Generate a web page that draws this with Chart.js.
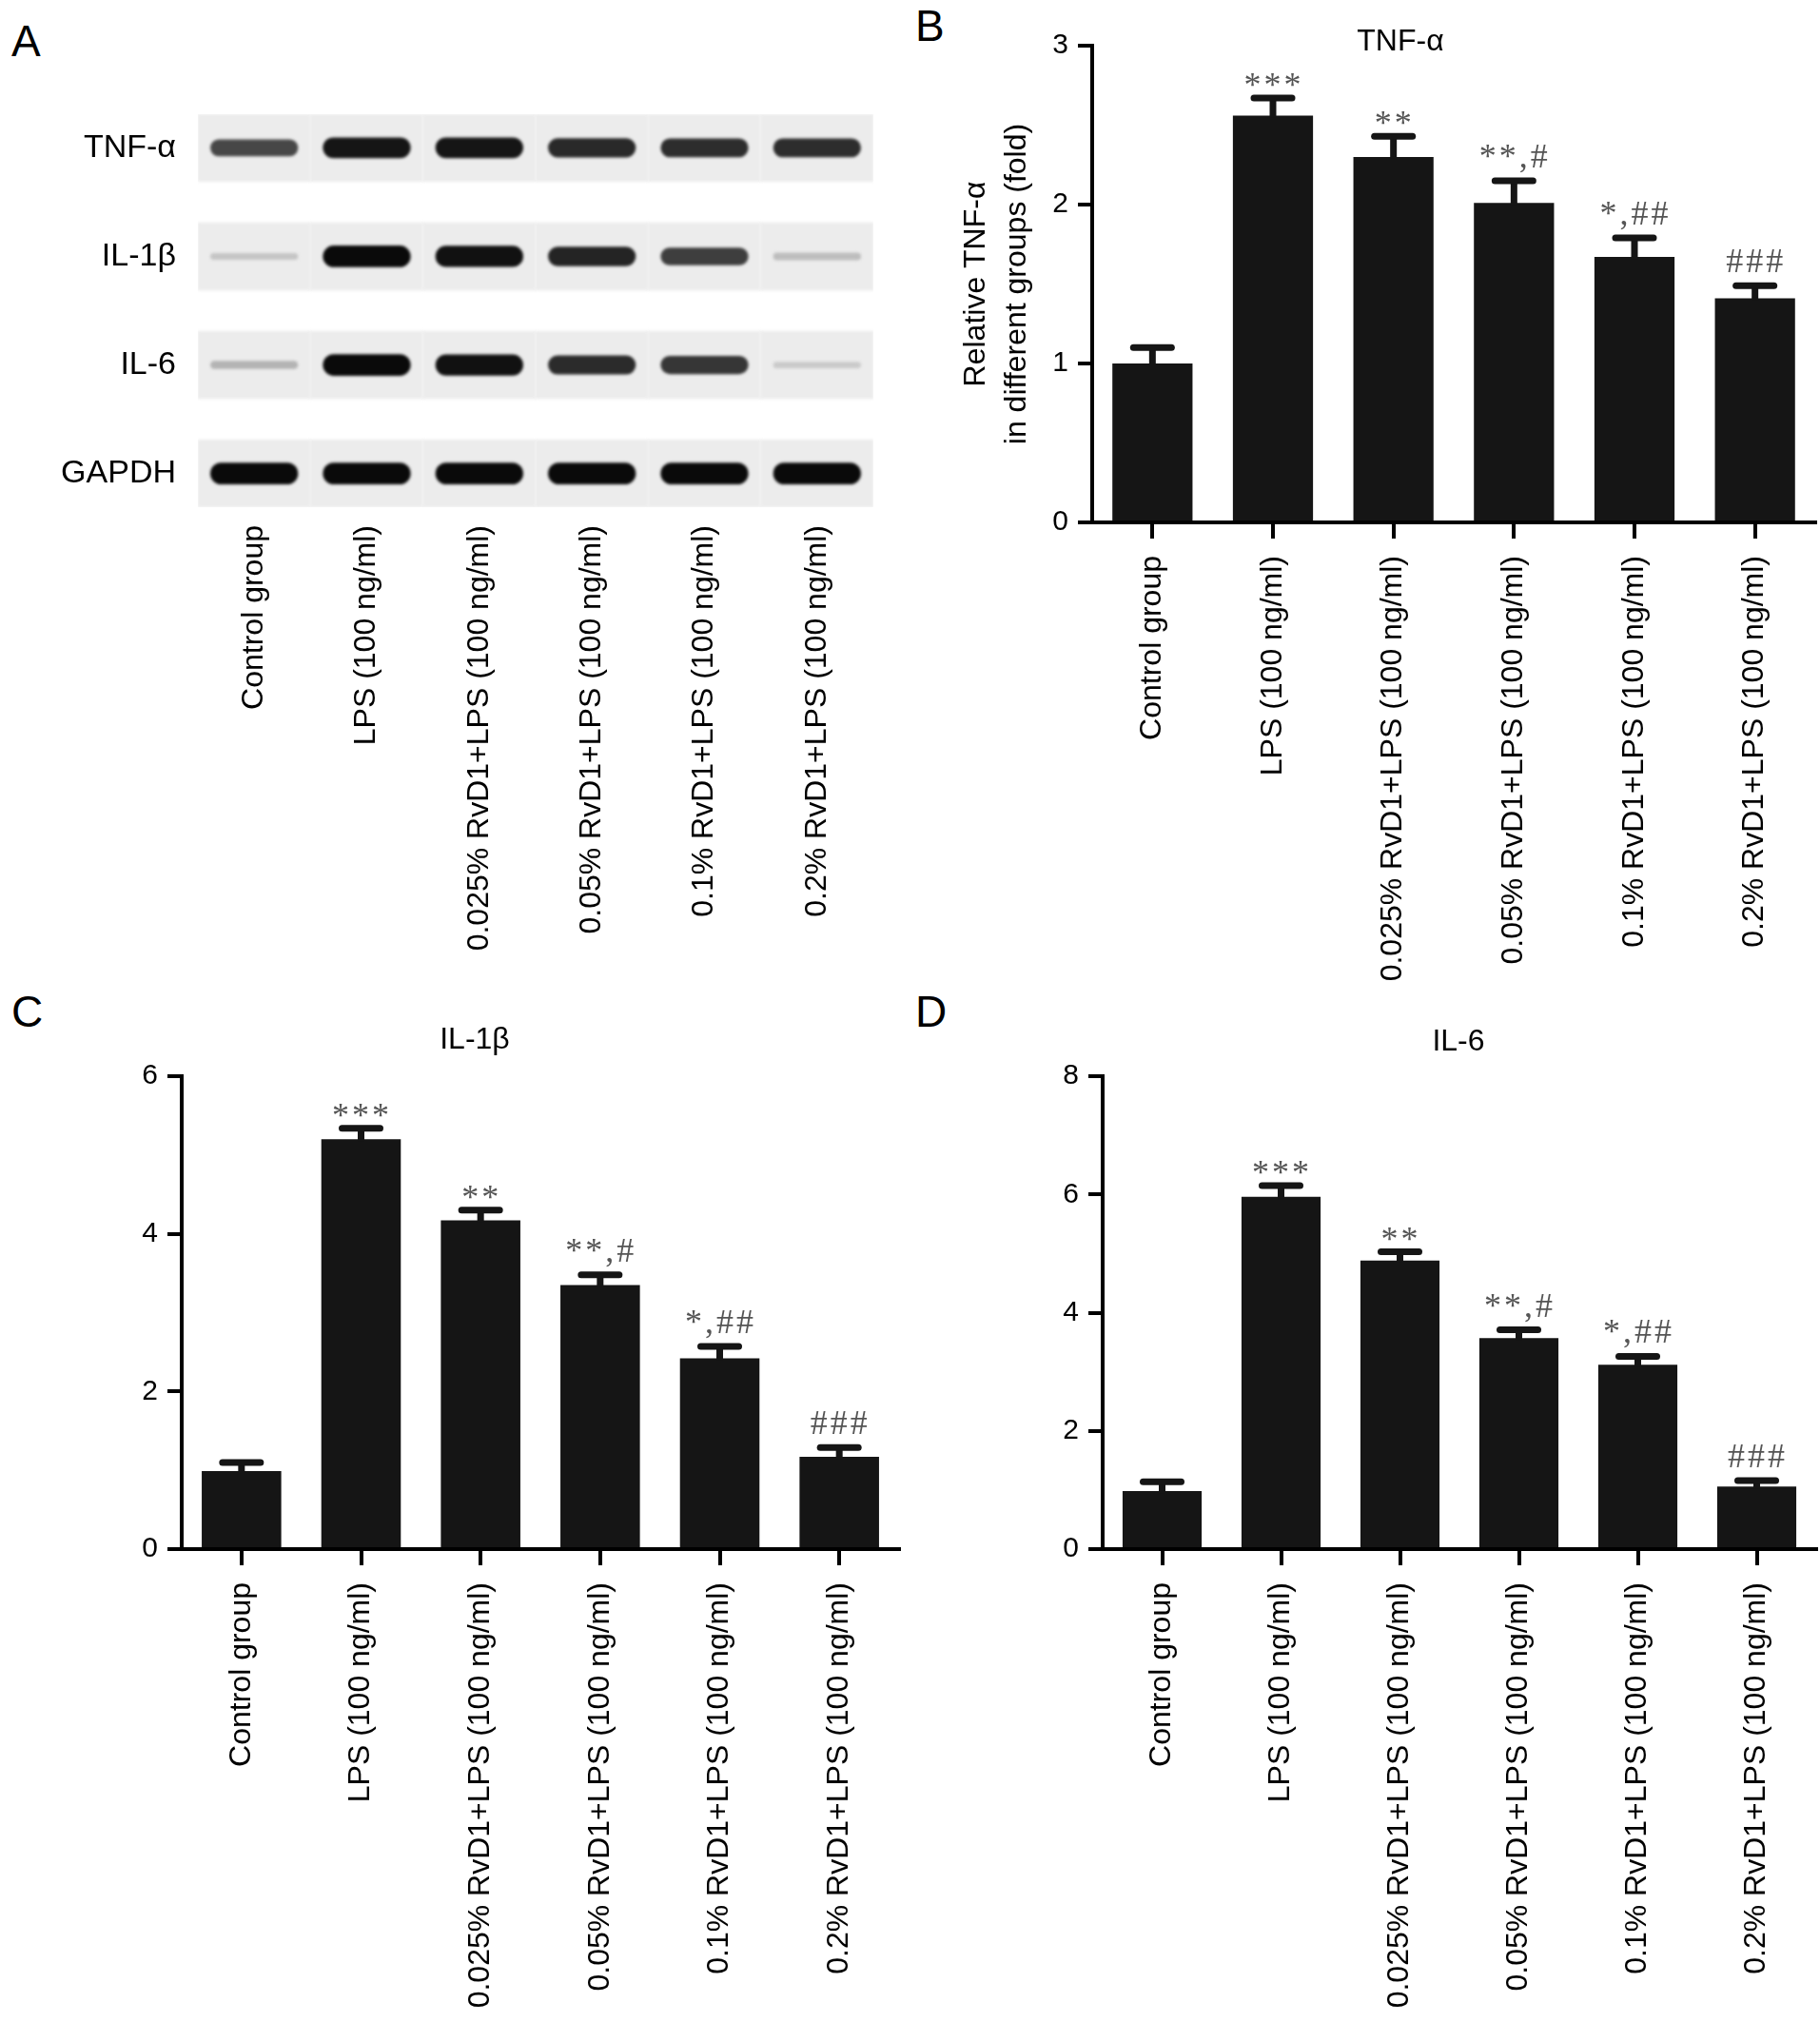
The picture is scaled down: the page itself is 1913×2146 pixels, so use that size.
<!DOCTYPE html>
<html>
<head>
<meta charset="utf-8">
<script src="https://cdn.jsdelivr.net/npm/chart.js@4.4.1/dist/chart.umd.min.js"></script>
<style>
  body { margin: 0; background: #fff; }
  #page { position: relative; width: 1913px; height: 2146px; background: #fff; }
  canvas { position: absolute; }
  .letter { position: absolute; font: 46px "Liberation Sans", Arial, sans-serif; color: #000; line-height: 1; }
</style>
</head>
<body>
<div id="page">
  <div class="letter" style="left:12px; top:20px;">A</div>
  <div class="letter" style="left:962px; top:4px;">B</div>
  <div class="letter" style="left:12px; top:1040px;">C</div>
  <div class="letter" style="left:962px; top:1040px;">D</div>
  <canvas id="blot" width="960" height="1040" style="left:0; top:0;"></canvas>
  <canvas id="graphTNF" width="953" height="1060" style="left:960px; top:0;"></canvas>
  <canvas id="graphIL1" width="960" height="1106" style="left:0; top:1040px;"></canvas>
  <canvas id="graphIL6" width="953" height="1106" style="left:960px; top:1040px;"></canvas>
</div>
<script>
Chart.defaults.font.family = '"Liberation Sans", Arial, Helvetica, sans-serif'
Chart.defaults.color = '#000'

// groups, same order in every panel
var groups = ['Control group', 'LPS (100 ng/ml)', '0.025% RvD1+LPS (100 ng/ml)', '0.05% RvD1+LPS (100 ng/ml)', '0.1% RvD1+LPS (100 ng/ml)', '0.2% RvD1+LPS (100 ng/ml)']
var marks = ['', '***', '**', '**,#', '*,##', '###']

// relative expression (fold) and SD
var tnfMean = [1.00, 2.56, 2.30, 2.01, 1.67, 1.41]
var tnfSd = [0.10, 0.11, 0.13, 0.14, 0.12, 0.08]
var il1bMean = [0.99, 5.20, 4.17, 3.35, 2.42, 1.17]
var il1bSd = [0.11, 0.14, 0.13, 0.13, 0.15, 0.12]
var il6Mean = [0.98, 5.96, 4.88, 3.57, 3.12, 1.06]
var il6Sd = [0.16, 0.19, 0.15, 0.14, 0.14, 0.10]

// western blot: band darkness per lane (0 = none, 1 = saturated)
var blotRows = ['TNF-α', 'IL-1β', 'IL-6', 'GAPDH']
var tnfBand = [0.72, 0.95, 0.95, 0.86, 0.84, 0.84]
var il1bBand = [0.14, 1.00, 0.97, 0.88, 0.76, 0.18]
var il6Band = [0.22, 1.00, 0.97, 0.85, 0.80, 0.12]
var gapdhBand = [1.00, 1.00, 1.00, 1.00, 1.00, 1.00]

const BAR = '#151515'

// error bars + significance marks, drawn from the y scale
const errorBars = (sd, labels) => ({
    id: 'errorBars',
    afterDatasetsDraw(chart){
        const ctx = chart.ctx
        const y = chart.scales.y
        const values = chart.data.datasets[0].data
        ctx.save()
        chart.getDatasetMeta(0).data.forEach((bar, i) => {
            const yTop = y.getPixelForValue(values[i])
            const yCap = y.getPixelForValue(values[i] + sd[i])
            ctx.strokeStyle = BAR
            ctx.lineWidth = 7
            ctx.lineCap = 'butt'
            ctx.beginPath(); ctx.moveTo(bar.x, yTop + 2); ctx.lineTo(bar.x, yCap); ctx.stroke()
            ctx.lineCap = 'round'
            ctx.beginPath(); ctx.moveTo(bar.x - 20, yCap); ctx.lineTo(bar.x + 20, yCap); ctx.stroke()
            const s = labels[i]
            if(s){
                ctx.fillStyle = '#555'
                ctx.font = '36px "Liberation Serif", "Times New Roman", serif'
                ctx.letterSpacing = '3px'
                ctx.textAlign = 'center'
                ctx.textBaseline = 'alphabetic'
                ctx.fillText(s, bar.x + 1, yCap - (s.indexOf('#') >= 0 ? 14 : 2))
            }
        })
        ctx.restore()
    }
})

const panelTitle = (text, x, y) => ({
    id: 'panelTitle',
    afterDraw(chart){
        const ctx = chart.ctx
        ctx.save()
        ctx.fillStyle = '#000'
        ctx.font = '32px "Liberation Sans", Arial, sans-serif'
        ctx.textAlign = 'center'
        ctx.textBaseline = 'middle'
        ctx.fillText(text, x, y)
        ctx.restore()
    }
})

// soft edges for the blot bands and membrane strips
const blotBlur = {
    id: 'blotBlur',
    beforeDatasetsDraw(chart){ chart.ctx.save(); chart.ctx.filter = 'blur(1.6px)' },
    afterDatasetsDraw(chart){ chart.ctx.restore() }
}

function drawBarPanel(id, means, sd, yMax, yStep, title, titleX, titleY, yTitle, layout){
    return new Chart(document.getElementById(id).getContext('2d'), {
        type: 'bar',
        data: {
            labels: groups,
            datasets: [{
                data: means,
                backgroundColor: BAR,
                borderWidth: 0,
                barPercentage: 0.665,
                categoryPercentage: 1.0
            }]
        },
        options: {
            responsive: false,
            animation: false,
            layout: { padding: { top: layout.top, right: layout.right, left: 0, bottom: 0 } },
            plugins: { legend: { display: false }, tooltip: { enabled: false } },
            scales: {
                x: {
                    grid: { offset: false, drawOnChartArea: false, drawTicks: true, tickLength: 17, tickWidth: 4, lineWidth: 4, color: '#000' },
                    border: { display: true, width: 4, color: '#000' },
                    ticks: { font: { size: 32 }, color: '#000', minRotation: 90, maxRotation: 90, autoSkip: false, padding: 18 },
                    afterFit: (scale) => { scale.height = layout.xh }
                },
                y: {
                    min: 0,
                    max: yMax,
                    grid: { drawOnChartArea: false, drawTicks: true, tickLength: 15, tickWidth: 4, lineWidth: 4, color: '#000' },
                    border: { display: true, width: 4, color: '#000' },
                    ticks: { stepSize: yStep, font: { size: 30 }, color: '#000', padding: 10 },
                    title: yTitle ? { display: true, text: yTitle, font: { size: 32, lineHeight: 1.34 }, color: '#000', padding: { top: 45, bottom: 0 } } : { display: false },
                    afterFit: (scale) => { scale.width = layout.yw }
                }
            }
        },
        plugins: [errorBars(sd, marks), panelTitle(title, titleX, titleY)]
    })
}

function drawBlot(){
    const rows = [tnfBand, il1bBand, il6Band, gapdhBand]
    const stripH = 0.62
    const datasets = []
    rows.forEach((band, i) => {
        const mid = i + stripH / 2
        datasets.push({
            data: band.map((v) => {
                const h = 0.04 + 0.16 * v
                return [mid - h / 2, mid + h / 2]
            }),
            backgroundColor: band.map((v) => {
                const g = Math.round(228 - 218 * v)
                return 'rgb(' + g + ',' + g + ',' + g + ')'
            }),
            borderWidth: 0,
            borderRadius: 14,
            borderSkipped: false,
            barPercentage: 0.78,
            categoryPercentage: 1.0,
            grouped: false,
            order: 0
        })
        datasets.push({
            data: band.map(() => [i, i + stripH]),
            backgroundColor: '#ececec',
            borderWidth: 0,
            barPercentage: 1.0,
            categoryPercentage: 1.0,
            grouped: false,
            order: 1
        })
    })
    return new Chart(document.getElementById('blot').getContext('2d'), {
        type: 'bar',
        data: { labels: groups, datasets: datasets },
        options: {
            responsive: false,
            animation: false,
            layout: { padding: { top: 120, right: 42, left: 0, bottom: 0 } },
            plugins: { legend: { display: false }, tooltip: { enabled: false } },
            scales: {
                x: {
                    grid: { display: false, drawTicks: false },
                    border: { display: false },
                    ticks: { font: { size: 32 }, color: '#000', minRotation: 90, maxRotation: 90, autoSkip: false, padding: 19 },
                    afterFit: (scale) => { scale.height = 507 }
                },
                y: {
                    min: 0,
                    max: 3 + stripH,
                    reverse: true,
                    grid: { display: false, drawTicks: false },
                    border: { display: false },
                    afterBuildTicks: (scale) => { scale.ticks = blotRows.map((_, i) => ({ value: i + stripH / 2 })) },
                    ticks: { font: { size: 34 }, color: '#000', padding: 23, callback: (v, idx) => blotRows[idx] },
                    afterFit: (scale) => { scale.width = 208 }
                }
            }
        },
        plugins: [blotBlur]
    })
}

drawBlot()
drawBarPanel('graphTNF', tnfMean, tnfSd, 3, 1, 'TNF-α', 512, 44, ['Relative TNF-α', 'in different groups (fold)'], { top: 48, right: 5, xh: 511, yw: 188 })
drawBarPanel('graphIL1', il1bMean, il1bSd, 6, 2, 'IL-1β', 499, 53, null, { top: 91, right: 15, xh: 518, yw: 191 })
drawBarPanel('graphIL6', il6Mean, il6Sd, 8, 2, 'IL-6', 573, 55, null, { top: 91, right: 4, xh: 518, yw: 199 })
</script>
</body>
</html>
